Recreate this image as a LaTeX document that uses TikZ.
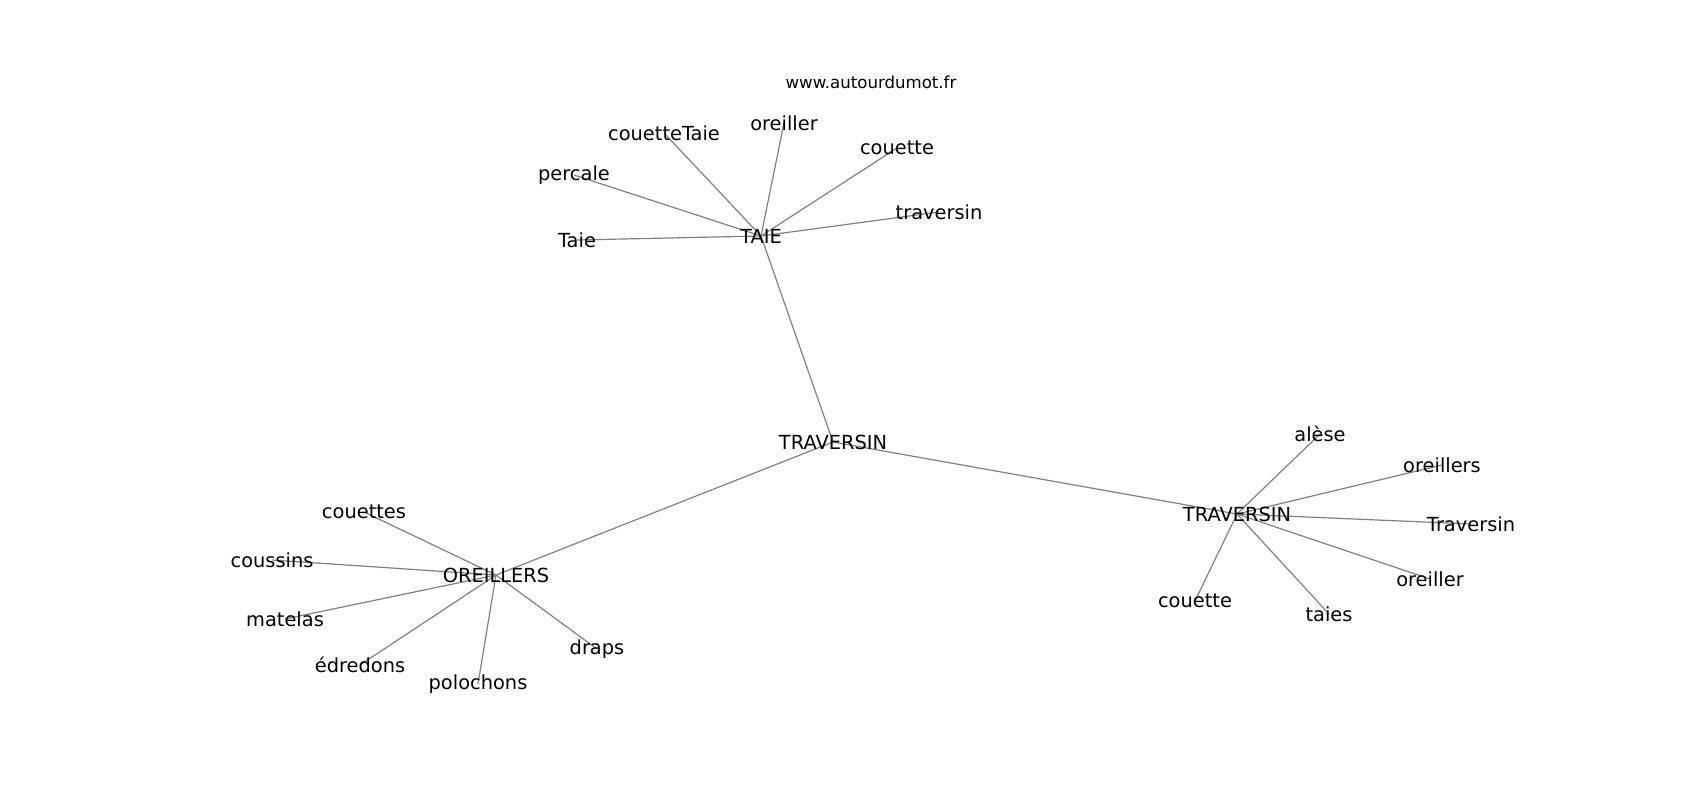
\documentclass[tikz,border=0pt]{standalone}
\usepackage{fontspec}
\setmainfont{DejaVu Sans}
\usetikzlibrary{backgrounds}
\begin{document}
\begin{tikzpicture}[x=1pt, y=-1pt, line join=round, line cap=round,
	mot/.style={inner sep=0pt, font=\fontsize{19.4}{21}\selectfont},
	lien/.style={gray, line width=1.2pt}]
	\useasboundingbox (0,0) rectangle (1700,800);
	\path
	(871,82) node[inner sep=0pt, font=\fontsize{16.6}{18}\selectfont] (site) {www.autourdumot.fr}
	(833,442) node[mot] (TR) {TRAVERSIN}
	(761,236) node[mot] (TA) {TAIE}
	(496,575) node[mot] (OR) {OREILLERS}
	(1237,514) node[mot] (TV) {TRAVERSIN}
	% autour de TAIE
	(664,133) node[mot] (ct) {couetteTaie}
	(784,123) node[mot] (oa) {oreiller}
	(897,148) node[mot] (ca) {couette}
	(574,175) node[mot] (pa) {percale}
	(577,240) node[mot] (ta) {Taie}
	(939,212) node[mot] (tb) {traversin}
	% autour de TRAVERSIN
	(1320,434) node[mot] (al) {alèse}
	(1442,465) node[mot] (os) {oreillers}
	(1471,524) node[mot] (Tr) {Traversin}
	(1430,579) node[mot] (ob) {oreiller}
	(1329,614) node[mot] (ts) {taies}
	(1195,601) node[mot] (cb) {couette}
	% autour de OREILLERS
	(364,512) node[mot] (cs) {couettes}
	(272,560) node[mot] (cn) {coussins}
	(285,619) node[mot] (ma) {matelas}
	(360,665) node[mot] (ed) {édredons}
	(478,684) node[mot] (po) {polochons}
	(597,649) node[mot] (dr) {draps}
	;
	\begin{scope}[on background layer]
		\foreach \a/\b in {TR/TA,TR/OR,TR/TV,TA/ct,TA/oa,TA/ca,TA/pa,TA/ta,TA/tb,TV/al,TV/os,TV/Tr,TV/ob,TV/ts,TV/cb,OR/cs,OR/cn,OR/ma,OR/ed,OR/po,OR/dr}
			\draw[lien] (\a.center)--(\b.center);
	\end{scope}
\end{tikzpicture}
\end{document}
